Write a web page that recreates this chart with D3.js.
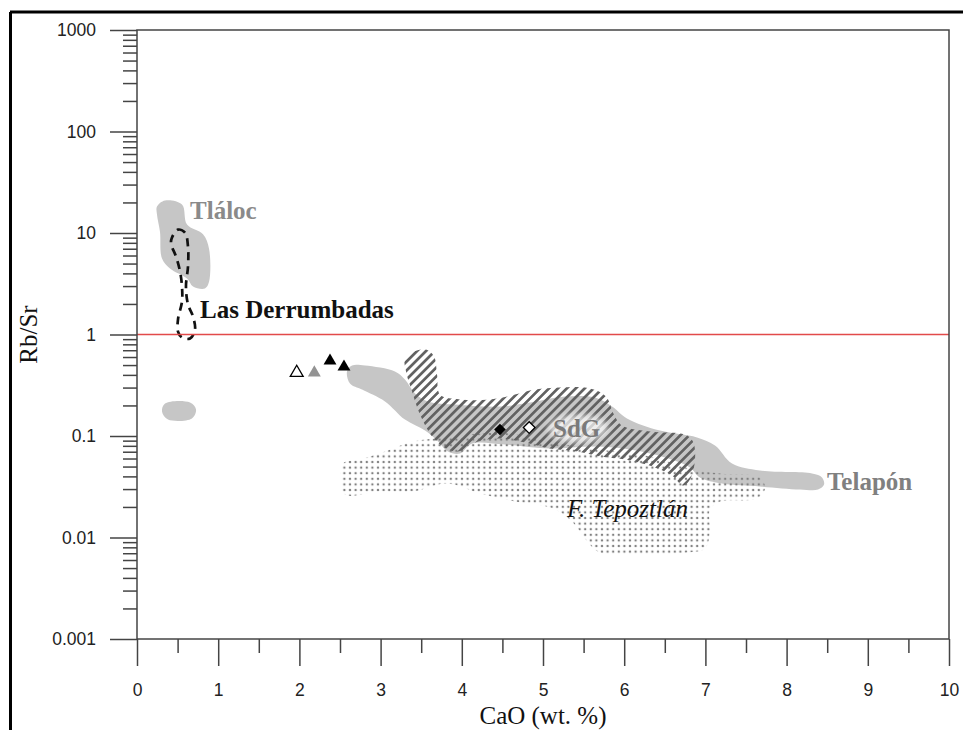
<!DOCTYPE html>
<html><head><meta charset="utf-8">
<script src="https://cdn.jsdelivr.net/npm/d3@7/dist/d3.min.js"></script>
<style>body{margin:0;background:#fff}svg{display:block}</style>
</head><body>
<svg id="c" width="963" height="730"></svg>
<script>
// ---------- DATA ----------
const caoTicks = [0,1,2,3,4,5,6,7,8,9,10];
const caoMinorTicks = [0.5,1.5,2.5,3.5,4.5,5.5,6.5,7.5,8.5,9.5];
const rbsrTicks = [0.001,0.01,0.1,1,10,100,1000];
const rbsrTickLabels = ["0.001","0.01","0.1","1","10","100","1000"];

// Tláloc field (grey)
const tlalocCaO  = [0.246,0.345,0.554,0.616,0.813,0.887,0.887,0.837,0.690,0.616,0.406,0.308,0.283,0.246];
const tlalocRbSr = [18.2,20.9,19.1,12.1,9.7,7.0,3.3,2.84,2.97,3.56,4.47,5.6,10.3,15.2];
// small Tláloc field
const tlaloc2CaO  = [0.345,0.653,0.727,0.677,0.382,0.308];
const tlaloc2RbSr = [0.209,0.214,0.182,0.149,0.145,0.174];
// Las Derrumbadas (dashed outline)
const derrCaO  = [0.431,0.505,0.591,0.628,0.628,0.603,0.628,0.690,0.714,0.653,0.554,0.505,0.505,0.554,0.554,0.530,0.480,0.419];
const derrRbSr = [9.03,10.8,10.1,7.36,4.68,2.97,1.98,1.50,1.12,0.913,0.934,1.07,1.41,2.11,2.97,4.18,5.87,7.88];
// Telapón field (grey)
const telaCaO  = [2.586,2.648,2.808,3.177,3.300,3.424,3.584,3.916,4.470,4.840,5.271,5.640,5.850,6.034,6.441,6.897,7.118,7.328,7.672,8.313,8.436,8.461,8.387,8.165,7.672,7.204,6.933,6.810,6.502,6.071,5.640,5.086,4.532,4.126,3.978,3.830,3.707,3.547,3.300,3.054,2.771,2.623];
const telaRbSr = [0.432,0.495,0.495,0.432,0.360,0.262,0.219,0.204,0.195,0.214,0.245,0.239,0.195,0.149,0.113,0.0967,0.0806,0.0536,0.0457,0.0427,0.039,0.0333,0.0297,0.0297,0.0318,0.034,0.039,0.049,0.0614,0.0736,0.0788,0.0753,0.0824,0.0843,0.0672,0.0703,0.0883,0.113,0.145,0.219,0.287,0.329];
// F. Tepoztlán field (stippled)
const tepoCaO  = [2.537,2.746,3.054,3.399,3.818,4.224,4.594,5.049,5.702,6.318,6.847,7.180,7.672,7.734,7.635,7.180,7.057,7.057,6.995,6.773,6.195,5.702,5.517,5.357,5.123,4.655,4.224,3.818,3.399,2.993,2.562,2.512];
const tepoRbSr = [0.0536,0.0586,0.0703,0.0883,0.0967,0.106,0.106,0.0883,0.0736,0.0628,0.0468,0.0427,0.039,0.0304,0.0242,0.0226,0.0189,0.0115,0.0078,0.0071,0.0068,0.0071,0.0098,0.0144,0.0193,0.0226,0.0271,0.034,0.0284,0.0284,0.0265,0.0373];
// SdG field (hatched)
const sdgCaO  = [3.300,3.411,3.559,3.658,3.695,3.732,3.978,4.347,4.655,4.901,5.209,5.579,5.776,5.874,5.973,6.318,6.749,6.847,6.872,6.810,6.724,6.589,6.379,6.010,5.702,5.431,5.086,4.778,4.470,4.200,3.953,3.805,3.645,3.485,3.387,3.313];
const sdgRbSr = [0.567,0.680,0.711,0.607,0.404,0.256,0.229,0.229,0.256,0.287,0.301,0.294,0.245,0.163,0.127,0.111,0.1035,0.0883,0.0586,0.0373,0.0325,0.0408,0.049,0.0586,0.0628,0.0703,0.0753,0.0863,0.0945,0.0883,0.0703,0.0753,0.0967,0.163,0.274,0.432];

// samples
const triCaO  = [1.967,2.184,2.377,2.549];
const triRbSr = [0.42,0.42,0.55,0.48];
const triKind = ["open","grey","black","black"];
const diaCaO  = [4.47,4.83];
const diaRbSr = [0.116,0.121];
const diaKind = ["black","open"];

const labelText = ["Tláloc","Las Derrumbadas","SdG","F. Tepoztlán","Telapón"];
const labelCaO  = [0.653,0.776,5.123,5.296,8.497];
const labelRbSr = [13.6,1.44,0.0967,0.0161,0.0297];

// ---------- CHART ----------
const svg = d3.select("#c");
const L=137,R=949,T=30,B=639;
const x = d3.scaleLinear([0,10],[L,R]);
const y = d3.scaleLog([0.001,1000],[B,T]);

const defs = svg.append("defs");
const hatch = defs.append("pattern").attr("id","hatch").attr("patternUnits","userSpaceOnUse")
  .attr("width",6.3).attr("height",6.3).attr("patternTransform","rotate(45)");
hatch.append("rect").attr("x",0).attr("y",0).attr("width",2.7).attr("height",6.3).attr("fill","#626262");
const dots = defs.append("pattern").attr("id","dots").attr("patternUnits","userSpaceOnUse")
  .attr("width",5.6).attr("height",5.6);
dots.append("circle").attr("cx",2.8).attr("cy",2.8).attr("r",1.2).attr("fill","#808080");
const blur = defs.append("filter").attr("id","blur").attr("x","-50%").attr("y","-50%").attr("width","200%").attr("height","200%");
blur.append("feGaussianBlur").attr("stdDeviation",3);

// outer frame (top & left)
svg.append("line").attr("x1",10).attr("y1",12).attr("x2",963).attr("y2",12).attr("stroke","#000").attr("stroke-width",3);
svg.append("line").attr("x1",10.5).attr("y1",12).attr("x2",10.5).attr("y2",730).attr("stroke","#000").attr("stroke-width",3);

const area = (xs,ys)=> d3.line().x(i=>x(xs[i])).y(i=>y(ys[i])).curve(d3.curveCatmullRomClosed.alpha(0.5))(d3.range(xs.length));

const g = svg.append("g");
g.append("path").attr("d",area(tlalocCaO,tlalocRbSr)).attr("fill","#c6c6c6");
g.append("path").attr("d",area(tlaloc2CaO,tlaloc2RbSr)).attr("fill","#c6c6c6");
g.append("path").attr("d",area(telaCaO,telaRbSr)).attr("fill","#c6c6c6");
g.append("path").attr("d",area(tepoCaO,tepoRbSr)).attr("fill","url(#dots)");
g.append("path").attr("d",area(sdgCaO,sdgRbSr)).attr("fill","url(#hatch)");
g.append("path").attr("d",area(derrCaO,derrRbSr)).attr("fill","none").attr("stroke","#111")
  .attr("stroke-width",2.7).attr("stroke-dasharray","8,6");

// red reference line at Rb/Sr = 1
svg.append("line").attr("x1",x(0)).attr("x2",x(10)).attr("y1",y(1)).attr("y2",y(1))
  .attr("stroke","#e24a4a").attr("stroke-width",1.5);

// markers
const triSym = d3.symbol().type(d3.symbolTriangle).size(72);
const fillOf = k => k==="open" ? "#fff" : (k==="grey" ? "#939393" : "#000");
svg.selectAll(".tri").data(d3.range(triCaO.length)).join("path")
  .attr("transform",i=>`translate(${x(triCaO[i])},${y(triRbSr[i])})`)
  .attr("d",triSym()).attr("fill",i=>fillOf(triKind[i]))
  .attr("stroke",i=>triKind[i]==="open"?"#000":"none").attr("stroke-width",1.3);
const sqSym = d3.symbol().type(d3.symbolSquare).size(68);
svg.selectAll(".dia").data(d3.range(diaCaO.length)).join("path")
  .attr("transform",i=>`translate(${x(diaCaO[i])},${y(diaRbSr[i])}) rotate(45)`)
  .attr("d",sqSym()).attr("fill",i=>fillOf(diaKind[i]))
  .attr("stroke","#000").attr("stroke-width",i=>diaKind[i]==="open"?1.3:0);

// labels
const labStyle = [
  {fill:"#8a8a8a",weight:"bold",style:"normal"},
  {fill:"#111",weight:"bold",style:"normal"},
  {fill:"#7a7a7a",weight:"bold",style:"normal"},
  {fill:"#111",weight:"normal",style:"italic"},
  {fill:"#808080",weight:"bold",style:"normal"}];
// halo behind SdG
svg.append("ellipse").attr("cx",x(labelCaO[2])+25).attr("cy",y(labelRbSr[2])-9).attr("rx",30).attr("ry",14)
  .attr("fill","#fff").attr("opacity",0.7).attr("filter","url(#blur)");
labelText.forEach((t,i)=>{
  svg.append("text").attr("x",x(labelCaO[i])).attr("y",y(labelRbSr[i])).text(t)
    .attr("font-family","'Liberation Serif','Times New Roman',serif").attr("font-size",25)
    .attr("font-weight",labStyle[i].weight).attr("font-style",labStyle[i].style).attr("fill",labStyle[i].fill);
});

// plot frame
svg.append("rect").attr("x",L).attr("y",T).attr("width",R-L).attr("height",B-T)
  .attr("fill","none").attr("stroke","#444").attr("stroke-width",1.5);

// axes
const yAxis = d3.axisLeft(y).tickValues(rbsrTicks).tickFormat((d,i)=>rbsrTickLabels[i]).tickSize(27).tickPadding(14).tickSizeOuter(0);
const yMinor = [];
rbsrTicks.slice(0,-1).forEach(d=>{for(let k=2;k<=9;k++) yMinor.push(d*k);});
svg.append("g").attr("transform",`translate(${L},0)`).call(yAxis);
svg.append("g").attr("transform",`translate(${L},0)`).call(d3.axisLeft(y).tickValues(yMinor).tickFormat("").tickSize(14).tickSizeOuter(0));
const xAxis = d3.axisBottom(x).tickValues(caoTicks).tickSize(27).tickPadding(18).tickSizeOuter(0);
svg.append("g").attr("transform",`translate(0,${B})`).call(xAxis);
svg.append("g").attr("transform",`translate(0,${B})`).call(d3.axisBottom(x).tickValues(caoMinorTicks).tickFormat("").tickSize(14).tickSizeOuter(0));
svg.selectAll(".domain").remove();
svg.selectAll(".tick line").attr("stroke","#444").attr("stroke-width",1.5);
svg.selectAll(".tick text").attr("font-family","'Liberation Sans',Arial,sans-serif").attr("font-size",17.5).attr("fill","#222");

// axis titles
svg.append("text").attr("x",x(5)).attr("y",724).attr("text-anchor","middle")
  .attr("font-family","'Liberation Serif','Times New Roman',serif").attr("font-size",25).attr("fill","#111").text("CaO (wt. %)");
svg.append("text").attr("transform",`translate(37,${y(1)}) rotate(-90)`).attr("text-anchor","middle")
  .attr("font-family","'Liberation Serif','Times New Roman',serif").attr("font-size",25).attr("fill","#111").text("Rb/Sr");
</script>
</body></html>
